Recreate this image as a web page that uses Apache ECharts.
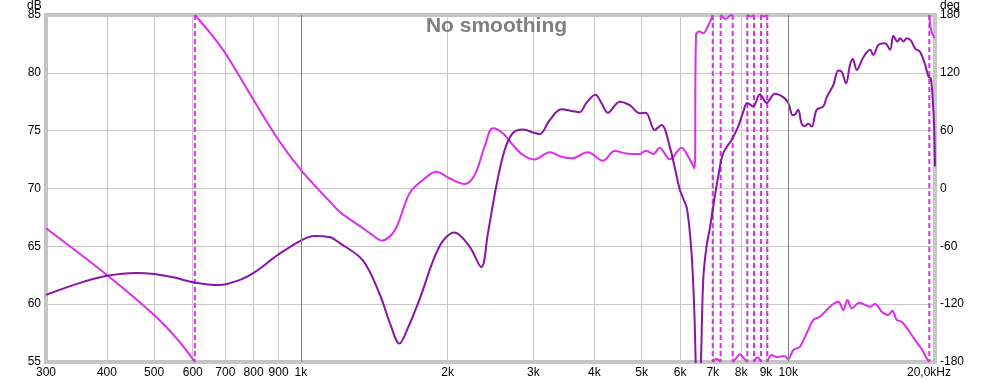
<!DOCTYPE html>
<html>
<head>
<meta charset="utf-8">
<script src="https://cdn.jsdelivr.net/npm/echarts@6/dist/echarts.min.js"></script>
<style>
html,body{margin:0;padding:0;background:#fff;}
#chart{width:993px;height:382px;}
</style>
</head>
<body>
<div id="chart"></div>
<script>
// ---- data ----
const freqTicks = [300,400,500,600,700,800,900,1000,2000,3000,4000,5000,6000,7000,8000,9000,10000,20000];
const freqTickLabels = ['300','400','500','600','700','800','900','1k','2k','3k','4k','5k','6k','7k','8k','9k','10k','20,0kHz'];
const dbTicks = [55,60,65,70,75,80,85];
const degTicks = [-180,-120,-60,0,60,120,180];

const magFreq = [300,350,400,460,500,550,600,680,750,800,900,1000,1066,1144,1200,1339,1450,1525,1593,1660,1751,1925,2066,2218,2345,2419,2517,2618,2723,2855,3018,3090,3239,3422,3600,3733,3853,4021,4136,4267,4510,4728,4958,5100,5322,5493,5714,5990,6080,6200,6330,6420,6480,6540,6600,6650,6700,6797,6900,7012,7181,7353,7650,7893,8080,8236,8472,8746,9028,9389,9763,10000,10207,10320,10481,10651,10820,10990,11170,11436,11800,11992,12373,12667,12873,13137,13387,13560,13819,14257,14714,14947,15305,15796,16175,16430,16744,16960,17228,17504,17842,18207,18644,19087,19389,19609,19800,19919,20000];
const magDb   = [60.8,61.8,62.45,62.7,62.6,62.3,61.9,61.65,62.1,62.7,64.3,65.5,65.9,65.8,65.3,63.8,60.9,58.3,56.6,58.0,60.4,65.0,66.2,65.0,63.2,66.1,70.2,73.3,74.8,75.1,74.8,74.7,75.9,76.85,76.7,76.6,77.4,78.1,77.4,76.55,77.5,77.2,76.5,76.55,75.05,75.5,73.6,69.9,69.2,68.2,64.5,59.0,52.0,45.0,52.0,58.5,62.5,65.0,66.5,68.4,71.0,73.05,74.2,75.35,76.6,77.4,77.1,78.15,77.4,78.2,77.9,77.4,76.35,76.4,76.8,75.6,75.4,75.6,75.35,76.8,77.1,77.9,78.95,80.2,80.1,79.1,80.7,81.2,80.25,81.35,82.0,81.55,82.4,82.55,82.0,83.2,82.7,83.0,82.7,83.0,82.8,82.1,81.8,80.7,79.7,79.5,77.5,75.3,71.9];

// phase (deg); null = break at a wrap
const phaseFreq = [300,400,500,560,606, 606, 606,650,700,800,900,1000,1091,1144,1200,1270,1339,1400,1465,1560,1671,1780,1895,2018,2167,2273,2382,2477,2597,2723,2855,3018,3239,3422,3588,3876,4168,4405,4700,4958,5100,5285,5445,5714,6039,6250,6420,6470,6580,6688,6860,6998, 6998, 6998,7130,7267, 7267, 7267,7450,7600,7691, 7691, 7691,7820,7950,8100,8241, 8241, 8241,8380,8506, 8506, 8506,8650,8793, 8793, 8793,8930,9058, 9058, 9058,9247,9485,9806,10000,10240,10570,10910,11260,11620,11990,12370,12670,12970,13220,13500,13990,14710,15070,15550,16040,16350,16690,17090,17630,18200,18790,19230,19470, 19470, 19470,19650,19950];
const phaseDeg  = [-41.3,-89.7,-131.2,-157.4,-180, null, 180,162,140.3,91.8,50.3,19.2,-2,-13,-24,-33,-41,-48,-54,-43,-5,8.8,17.4,10.6,4.7,14,43.4,62.4,57.3,45.1,34.75,30.2,37.5,33,31.3,37.5,28.8,38.9,36,35.8,39.2,35.8,42.3,30.3,42.3,32,20.9,160,163,161,169.6,180, null, -180,-177,-180, null, 180,176,179.5,180, null, -180,-176,-172,-176,-180, null, 180,178.5,180, null, -180,-175,-180, null, 180,178.5,180, null, -180,-172.8,-175,-173.8,-177,-167.6,-164,-150,-136.4,-133,-126,-119.8,-117.4,-126,-115.7,-124.3,-118.5,-122.6,-119.8,-127.8,-131.3,-126.8,-136.4,-138.2,-146.8,-157.2,-166.8,-176.2,-180, null, 180,164,156];

// frequencies where the phase wraps between +180 and -180
const wrapFreq = [606,6998,7267,7691,8241,8506,8793,9058,19470];
const decadeFreq = [1000,10000];

// ---- build ----
const magColor = '#8a14a4';
const phaseColor = '#dc2cec';
const font = 'Liberation Sans, Arial, sans-serif';

const magData = magFreq.map((f,i)=>[f, magDb[i]]);
const phaseData = phaseFreq.map((f,i)=>[f, phaseDeg[i]]);
const wrapData = [];
wrapFreq.forEach(f=>{ wrapData.push([f, degTicks[degTicks.length-1]]); wrapData.push([f, degTicks[0]]); wrapData.push([f, null]); });

const chart = echarts.init(document.getElementById('chart'), null, {renderer:'canvas'});
chart.setOption({
  animation:false,
  backgroundColor:'#ffffff',
  title:{
    text:'No smoothing', left:'center', top:11,
    textStyle:{fontFamily:font, fontSize:21, fontWeight:'bold', color:'#7f7f7f'}
  },
  graphic:[
    {type:'text', left:27, top:0, style:{text:'dB', font:'12px '+font, fill:'#000'}},
    {type:'text', left:940, top:0, style:{text:'deg', font:'12px '+font, fill:'#000'}}
  ],
  grid:{left:46, right:58, top:15, bottom:20, show:true, borderColor:'#c4c4c4', borderWidth:4, backgroundColor:'#fff'},
  xAxis:{
    type:'log', logBase:10, min:freqTicks[0], max:freqTicks[freqTicks.length-1],
    axisLine:{show:false},
    axisTick:{show:false, customValues:freqTicks},
    axisLabel:{
      customValues:freqTicks, margin:5, color:'#000', fontFamily:font, fontSize:12,
      formatter:function(v){
        const i = freqTicks.indexOf(Math.round(v));
        if (i === freqTicks.length-1) return '{r|'+freqTickLabels[i]+'}';
        return i>=0 ? freqTickLabels[i] : '';
      },
      rich:{r:{fontFamily:font, fontSize:12, color:'#000', padding:[0,12,0,0]}}
    },
    splitLine:{show:true, lineStyle:{color:'#c8c8c8', width:1}}
  },
  yAxis:[
    {type:'value', position:'left', min:dbTicks[0], max:dbTicks[dbTicks.length-1], interval:5,
     axisLine:{show:false}, axisTick:{show:false},
     axisLabel:{margin:5, color:'#000', fontFamily:font, fontSize:12},
     splitLine:{show:true, lineStyle:{color:'#c8c8c8', width:1}}},
    {type:'value', position:'right', min:degTicks[0], max:degTicks[degTicks.length-1], interval:60,
     axisLine:{show:false}, axisTick:{show:false},
     axisLabel:{margin:5, color:'#000', fontFamily:font, fontSize:12},
     splitLine:{show:false}}
  ],
  series:[
    {type:'line', name:'decades', data:[], z:1, silent:true,
     markLine:{silent:true, symbol:'none', label:{show:false},
       lineStyle:{color:'#808080', width:1, type:'solid'},
       data:decadeFreq.map(f=>({xAxis:f}))}},
    {type:'line', name:'Phase', yAxisIndex:1, data:phaseData, showSymbol:false, symbol:'none',
     connectNulls:false, smooth:0.35,
     lineStyle:{color:phaseColor, width:2}, z:3},
    {type:'line', name:'Wrap', yAxisIndex:1, data:wrapData, showSymbol:false, symbol:'none',
     connectNulls:false, lineStyle:{color:phaseColor, width:2, type:[5,3]}, z:3},
    {type:'line', name:'SPL', yAxisIndex:0, data:magData, showSymbol:false, symbol:'none',
     smooth:0.35, lineStyle:{color:magColor, width:2}, z:4}
  ]
});
</script>
</body>
</html>
